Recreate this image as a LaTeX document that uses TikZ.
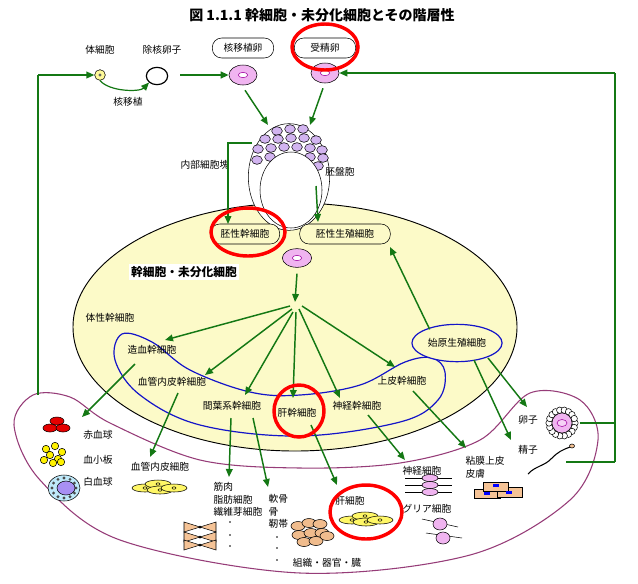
\documentclass[tikz,border=0pt]{standalone}
\usepackage{fontspec}
\setmainfont{Noto Sans CJK JP}
\usetikzlibrary{arrows.meta,shapes.geometric,calc}
\definecolor{gr}{RGB}{20,120,20}
\definecolor{yel}{RGB}{252,250,200}
\definecolor{pk}{RGB}{240,180,240}
\definecolor{mg}{RGB}{160,0,160}
\definecolor{pur}{RGB}{150,60,120}
\definecolor{bl}{RGB}{20,20,200}
\definecolor{vio}{RGB}{210,180,240}
\definecolor{skin}{RGB}{245,195,150}
\tikzset{
 lab/.style={font=\fontsize{7.3pt}{9.3pt}\selectfont,inner sep=1pt},
 rbox/.style={draw,rounded corners=7pt,minimum height=15pt,font=\fontsize{7.3pt}{8pt}\selectfont},
 arr/.style={draw=gr,line width=1.1pt,-{Triangle[length=6pt,width=5pt]}},
 gline/.style={draw=gr,line width=1.1pt},
 egg/.style={draw,fill=pk,ellipse,minimum width=21pt,minimum height=15pt,inner sep=0pt},
 redc/.style={draw=red,line width=2.6pt,ellipse},
 ball/.style={draw,fill=vio,ellipse,minimum width=8pt,minimum height=6.5pt,inner sep=0pt},
}
\begin{document}
\begin{tikzpicture}[x=0.75pt,y=-0.75pt]
\useasboundingbox (0,0) rectangle (638,583);
\node[font=\fontsize{10.5pt}{12pt}\selectfont\bfseries] (title) at (322,15) {図 1.1.1 幹細胞・未分化細胞とその階層性};
% purple region
\draw[pur,line width=0.8pt,fill=white] plot[smooth cycle,tension=0.55] coordinates {(33,395) (14,425) (40,480) (120,540) (300,573) (470,555) (570,500) (598,440) (580,400) (530,393) (480,440) (400,463) (300,468) (200,460) (110,423) (70,397)};
% big ellipse
\draw[fill=yel,line width=0.7pt] (295,327) ellipse [x radius=222,y radius=124];
% blue loops
\draw[bl,line width=0.9pt] plot[smooth cycle,tension=0.6] coordinates {(122,334) (152,342) (190,370) (250,392) (300,395) (360,385) (405,362) (432,358) (445,372) (438,400) (400,422) (300,436) (200,425) (140,395) (115,360)};
\node[draw=bl,line width=0.9pt,ellipse,minimum width=60pt,minimum height=28pt,fill=yel,lab,inner sep=2pt] (pgc) at (457,343) {始原生殖細胞};
\node[fill=white,font=\fontsize{8.8pt}{10pt}\selectfont\bfseries,inner sep=2pt] (kan) at (184,272) {幹細胞・未分化細胞};
% top cells
\node[draw,fill=yellow!40,circle,minimum size=8pt,inner sep=0pt] (soma) at (100,75) {};
\fill[black!60] (soma) circle (1.6);
\node[draw,ellipse,minimum width=16pt,minimum height=13pt,line width=0.9pt] (enuc) at (157,76) {};
\node[lab] (lsoma) at (100,50) {体細胞};
\node[lab] (lenuc) at (162,50) {除核卵子};
\node[lab] (lnt) at (128,102) {核移植};
\node[rbox,minimum width=46pt] (bnt) at (243,48) {核移植卵};
\node[rbox,minimum width=46pt] (bfe) at (325,48) {受精卵};
\node[egg] (egg1) at (243,75) {};
\node[draw=mg,fill=white,ellipse,minimum width=7pt,minimum height=4pt,inner sep=0pt] at (egg1) {};
\node[egg] (egg2) at (325,73) {};
\node[draw=mg,fill=white,ellipse,minimum width=7pt,minimum height=4pt,inner sep=0pt] at (egg2) {};
% blastocyst
\node[draw,ellipse,minimum width=61pt,minimum height=80pt,fill=white] (blast) at (289,177) {};
\foreach \p in {(277,131),(290,129),(303,129),(265,139),(278,139),(291,138),(304,138),(316,140),(258,149),(271,148),(284,147),(297,147),(310,148),(322,150),(257,160),(270,157),(310,157),(323,158),(318,166),(304,165)}
  \node[ball] at \p {};
\draw[fill=white] (291,190) ellipse [x radius=31,y radius=38];
\node[lab] (licm) at (205,165) {内部細胞塊};
\node[lab] (lbl) at (340,172) {胚盤胞};
% ES boxes
\node[rbox,minimum width=52pt,fill=yel] (es) at (245,234) {胚性幹細胞};
\node[rbox,minimum width=68pt,fill=yel] (eg) at (345,234) {胚性生殖細胞};
\node[egg,minimum width=22pt,minimum height=14pt] (cell) at (297,258) {};
\node[draw=mg,fill=white,ellipse,minimum width=7pt,minimum height=4pt,inner sep=0pt] at (cell) {};
\coordinate (hub) at (295,302);
% stem cells labels
\node[lab] (ls) at (110,318) {体性幹細胞};
\node[lab] (hsc) at (152,350) {造血幹細胞};
\node[lab] (vsc) at (172,382) {血管内皮幹細胞};
\node[lab] (msc) at (232,406) {間葉系幹細胞};
\node[lab] (lsc) at (297,413) {肝幹細胞};
\node[lab] (nsc) at (357,406) {神経幹細胞};
\node[lab] (esc) at (402,381) {上皮幹細胞};
% top arrows
\draw[gline] (38,395) -- (38,75);
\draw[arr] (38,75) -- (soma.west);
\draw[arr,line width=0.9pt] (soma.south) .. controls (110,92) and (140,92) .. (enuc.south west);
\draw[arr,line width=1.8pt] (180,75) -- (egg1.west);
\draw[arr] (egg1.south) ++(2,5) -- (268,125);
\draw[arr] (egg2.south) ++(-2,5) -- (310,125);
\draw[gline] (252,143) -- (228,143) -- (228,200);
\draw[arr] (228,200) -- (228,224);
\draw[arr] (316,186) -- (318,222);
\draw[gline] (615,462) -- (615,73);
\draw[arr] (615,73) -- (egg2.east);
\draw[arr] (cell.south) ++(0,6) -- (hub);
% fan
\draw[arr] (290,306) -- (165,340);
\draw[arr] (292,309) -- (205,375);
\draw[arr] (293,312) -- (245,395);
\draw[arr] (296,312) -- (293,398);
\draw[arr] (299,309) -- (340,398);
\draw[arr] (302,306) -- (395,367);
\draw[arr] (pgc.north west) ++(5,0) -- (390,247);
\draw[arr] (488,358) -- (527,407);
\draw[arr] (474,360) -- (511,440);
% lower arrows
\draw[arr] (135,364) -- (82,417);
\draw[arr] (178,393) -- (150,457);
\draw[arr] (231,418) -- (229,477);
\draw[arr] (253,418) -- (268,487);
\draw[arr] (311,425) -- (337,485);
\draw[arr] (368,415) -- (405,460);
\draw[arr] (413,391) -- (466,448);
% bottom items
\node[lab] (rbc) at (98,435) {赤血球};
\node[lab] (plt) at (98,460) {血小板};
\node[lab] (wbc) at (98,482) {白血球};
\foreach \p in {(57,421),(50,428),(63,428)} \draw[fill=red!90!black] \p ellipse [x radius=7,y radius=4];
\foreach \p in {(46,449),(55,446),(62,452),(50,455),(58,459),(44,460),(53,463),(61,462)} \draw[fill=yellow] \p circle (3.7);
\draw[fill=cyan!25] (64,488) ellipse [x radius=16,y radius=13];
\foreach \a in {0,30,...,330} \fill[black!70] ($(64,488)+(\a:12 and 10)$) circle (1.6);
\draw[fill=vio!80!blue] (66,488) ellipse [x radius=9,y radius=7];
\node[lab] (vec) at (160,467) {血管内皮細胞};
\foreach \p in {(145,488),(158,484),(160,490),(174,488)} {\draw[fill=yellow!60] \p ellipse [x radius=13,y radius=4]; \draw \p ellipse [x radius=2,y radius=1.2];}
\node[lab,align=left,anchor=north west] (mus) at (212,481) {筋肉\\脂肪細胞\\繊維芽細胞};
\node[lab,align=left,anchor=north west] (bone) at (267,493) {軟骨\\骨\\靭帯};
\foreach \y in {522,535,546} \fill (230,\y) circle (0.8);
\foreach \y in {537,548,560} \fill (277,\y) circle (0.8);
\foreach \y in {527,537,545} {\draw[fill=skin] (184,\y-5) -- (200,\y) -- (216,\y-5) -- (216,\y+5) -- (200,\y) -- (184,\y+5) -- cycle; \fill (200,\y) circle (1.5);}
\foreach \p in {(298,526),(309,523),(320,524),(299,535),(311,533),(322,533),(304,542),(316,541),(327,536)} \draw[fill=skin!90!brown] \p ellipse [x radius=7,y radius=4.5];
\node[lab] (hep) at (350,501) {肝細胞};
\foreach \p in {(352,520),(365,516),(366,522),(380,520)} {\draw[fill=yellow!60] \p ellipse [x radius=13,y radius=4]; \draw \p ellipse [x radius=2,y radius=1.2];}
\node[lab] (neu) at (422,471) {神経細胞};
\foreach \y in {478,485,492} {\draw (405,\y) -- (452,\y); \draw[fill=pk] (430,\y) ellipse [x radius=8,y radius=3.5];}
\node[lab] (gli) at (427,509) {グリア細胞};
\draw (422,519) -- (458,527) (426,533) -- (462,538);
\draw[fill=pk] (440,524) ellipse [x radius=7,y radius=6]; \draw[fill=pk] (443,538) ellipse [x radius=7,y radius=6];
\node[lab,align=left,anchor=north west] (muc) at (464,455) {粘膜上皮\\皮膚};
\draw[fill=skin] (474,489) rectangle (500,498); \draw[fill=skin] (497,487) rectangle (522,497); \draw[fill=skin] (483,482) rectangle (508,491);
\fill[blue] (493,484) rectangle (499,487); \fill[blue] (484,492) rectangle (490,495); \fill[blue] (506,491) rectangle (512,494);
\node[lab] (ova) at (528,420) {卵子};
\node[draw=none,circle,minimum size=26pt,inner sep=0pt] (egg3) at (562,423) {};
\foreach \a in {0,20,...,340} \draw[fill=white] ($(562,423)+(\a:13)$) circle (3.2);
\draw[fill=pk] (562,423) circle (10); \draw[mg,fill=pk!60] (562,423) ellipse [x radius=5,y radius=3.5];
\node[lab] (sp) at (528,450) {精子};
\draw[line width=0.8pt] (528,474) .. controls (535,466) and (545,466) .. (552,458) .. controls (558,452) and (562,450) .. (570,447);
\draw[fill=skin] (572,446) ellipse [x radius=2.5,y radius=2];
\draw[gline] (egg3.east) -- (615,423);
\draw[gline] (566,462) -- (615,462);
\node[lab] (org) at (327,563) {組織・器官・臓};
% red circles
\draw[redc] (325,47) ellipse [x radius=33,y radius=23];
\draw[redc] (248,232) ellipse [x radius=37,y radius=24];
\draw[redc] (299,411) ellipse [x radius=25,y radius=26];
\draw[redc] (366,512) ellipse [x radius=36,y radius=27];
\end{tikzpicture}
\end{document}
